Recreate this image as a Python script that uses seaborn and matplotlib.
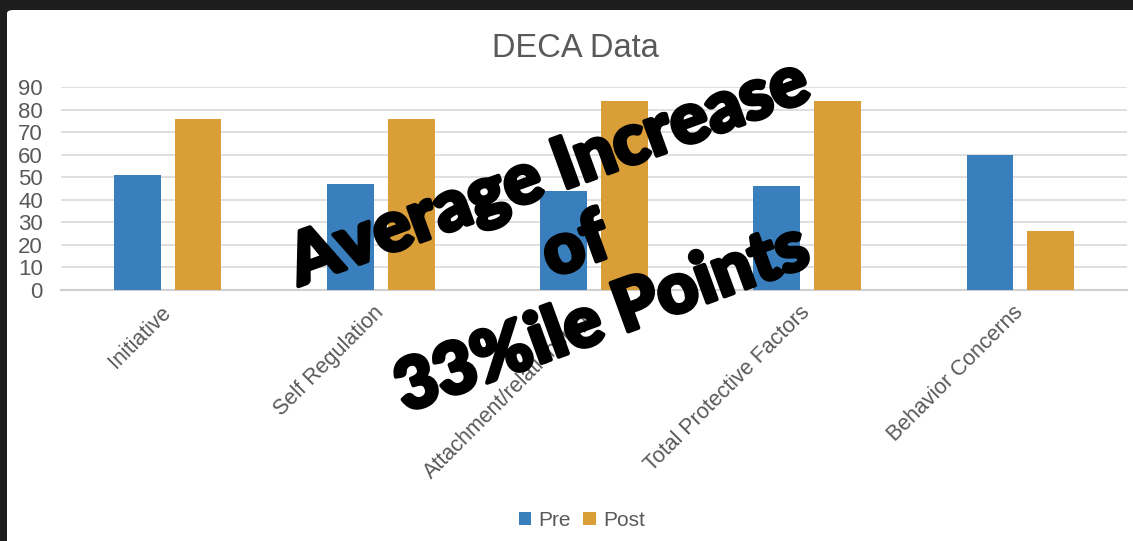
import pandas as pd
import matplotlib.pyplot as plt
import matplotlib.patheffects as pe
import seaborn as sns
from matplotlib.patches import FancyBboxPatch


categories = ['Initiative', 'Self Regulation', 'Attachment/relationships',
              'Total Protective Factors', 'Behavior Concerns']
pre_scores = [51, 47, 44, 46, 60]
post_scores = [76, 76, 84, 84, 26]
series_names = ['Pre', 'Post']
y_ticks = [0, 10, 20, 30, 40, 50, 60, 70, 80, 90]
overlay_text = 'Average Increase\nof\n33%ile Points'

colors = ['#3A7FBD', '#D99E38']
grey = '#595959'

df = pd.DataFrame({
    'Category': categories * 2,
    'Score': pre_scores + post_scores,
    'Phase': [series_names[0]] * len(categories) + [series_names[1]] * len(categories),
})

sns.set_style('white')
plt.rcParams['font.family'] = ['Liberation Sans', 'DejaVu Sans']

fig = plt.figure(figsize=(11.33, 5.41), dpi=100, facecolor='#1d1d1d')

# white slide panel over the dark background
panel = FancyBboxPatch((7 / 1133, -0.05), 1.2, 1 - 10 / 541 + 0.05,
                       boxstyle='round,pad=0,rounding_size=0.006',
                       transform=fig.transFigure, facecolor='white',
                       edgecolor='none', zorder=-5)
fig.patches.append(panel)

ax = fig.add_axes([61 / 1133, 1 - 290 / 541, (1127 - 61) / 1133, (290 - 87) / 541])
ax.set_facecolor('none')

sns.barplot(data=df, x='Category', y='Score', hue='Phase', palette=colors,
            saturation=1, width=0.57, gap=0.23, linewidth=0, ax=ax, zorder=3)

ax.set_ylim(0, 90)
ax.set_yticks(y_ticks)
ax.set_xlim(-0.5, len(categories) - 0.5)
ax.yaxis.grid(True, color='#d9d9d9', linewidth=1.2, zorder=0)
ax.set_axisbelow(True)
for side in ['top', 'right', 'left']:
    ax.spines[side].set_visible(False)
ax.spines['bottom'].set_color('#d0d0d0')
ax.spines['bottom'].set_linewidth(1.5)
ax.tick_params(axis='both', length=0, colors=grey)
ax.tick_params(axis='y', labelsize=16, pad=13)
ax.tick_params(axis='x', labelsize=15.5, pad=14)
plt.setp(ax.get_xticklabels(), rotation=45, ha='right', va='center',
         rotation_mode='anchor')
ax.set_xlabel('')
ax.set_ylabel('')

fig.text(0.5075, 1 - 57 / 541, 'DECA Data', ha='center', va='baseline',
         fontsize=23.5, color=grey)

handles, labels = ax.get_legend_handles_labels()
ax.legend(handles, labels, loc='center', bbox_to_anchor=(0.5135, 0.038),
          bbox_transform=fig.transFigure, ncol=2, frameon=False, fontsize=15,
          labelcolor=grey, handlelength=0.6, handleheight=0.6,
          handletextpad=0.35, columnspacing=0.6)

# big slanted overlay message
fig.text(576 / 1133, 1 - 247 / 541, overlay_text, ha='center', va='center',
         multialignment='center', rotation=20, rotation_mode='anchor',
         fontsize=51, fontweight='black', family=['Lato', 'DejaVu Sans'],
         color='black', linespacing=1.22, zorder=10,
         path_effects=[pe.withStroke(linewidth=3, foreground='black')])

fig.savefig('out.png', dpi=100, facecolor=fig.get_facecolor())
